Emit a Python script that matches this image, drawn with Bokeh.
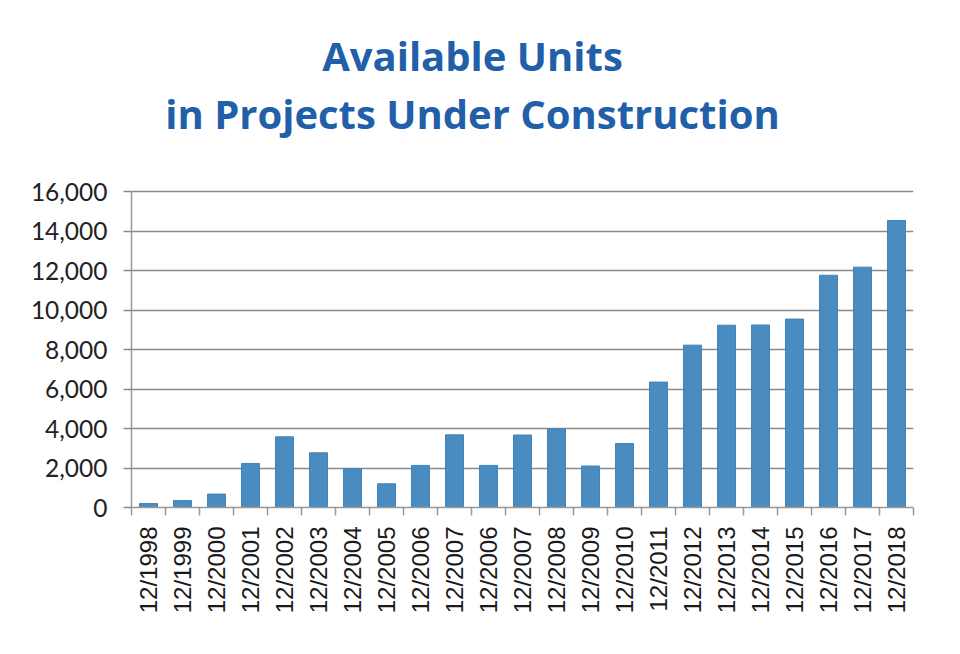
import math

from bokeh.plotting import figure
from bokeh.models import FixedTicker, NumeralTickFormatter, Label, Range1d
from bokeh.embed import file_html
from bokeh.resources import INLINE

# --- Data ---
periods = ["12/1998", "12/1999", "12/2000", "12/2001", "12/2002", "12/2003",
           "12/2004", "12/2005", "12/2006", "12/2007", "12/2006", "12/2007",
           "12/2008", "12/2009", "12/2010", "12/2011", "12/2012", "12/2013",
           "12/2014", "12/2015", "12/2016", "12/2017", "12/2018"]
units = [200, 350, 680, 2230, 3580, 2770, 1970, 1200, 2130, 3680, 2130, 3670,
         3980, 2100, 3240, 6350, 8220, 9230, 9240, 9540, 11760, 12170, 14530]
y_ticks = [0, 2000, 4000, 6000, 8000, 10000, 12000, 14000, 16000]
title_lines = ["Available Units", "in Projects Under Construction"]

BLUE = "#4a8cc0"
TITLE_BLUE = "#2160a9"

# layout in pixels: value axis runs from y=507 (0) up to y=191 (16,000);
# the frame is stretched up to the top so the title can sit inside it
AXIS_BOTTOM, AXIS_TOP = 507, 191
Y_MAX = y_ticks[-1]
per_px = Y_MAX / (AXIS_BOTTOM - AXIS_TOP)


def px_to_y(py):
    return (AXIS_BOTTOM - py) * per_px


idx = list(range(len(periods)))

p = figure(
    width=960, height=654,
    x_range=Range1d(-0.5, len(periods) - 0.5),
    y_range=Range1d(0, px_to_y(0)),
    toolbar_location=None,
    output_backend="svg",
    min_border_left=131, min_border_right=47,
    min_border_top=0, min_border_bottom=654 - AXIS_BOTTOM,
    background_fill_color="white",
    border_fill_color="white",
    outline_line_color=None,
)

# --- title: two centred lines ---
x_mid = -0.5 + (472 - 131) / ((913 - 131) / len(periods))
for line, baseline in zip(title_lines, [55, 113]):
    p.add_layout(Label(x=x_mid, y=px_to_y(baseline), text=line,
                       text_align="center", text_baseline="alphabetic",
                       text_font="Open Sans", text_font_size="40px",
                       text_font_style="bold", text_color=TITLE_BLUE))

p.vbar(x=idx, top=units, width=0.53, fill_color=BLUE,
       line_color="#3f84bd", line_width=1)

# --- x axis: labels under bars, tick marks between them ---
p.xaxis.ticker = FixedTicker(ticks=idx,
                             minor_ticks=[i - 0.5 for i in range(len(periods) + 1)])
p.xaxis.major_label_overrides = {i: lab for i, lab in enumerate(periods)}
p.xaxis.major_label_orientation = math.pi / 2
p.xaxis.major_tick_line_color = None
p.xaxis.major_tick_out = 0
p.xaxis.major_tick_in = 0
p.xaxis.minor_tick_out = 8
p.xaxis.minor_tick_in = 0
p.xaxis.minor_tick_line_color = "#999999"
p.xaxis.minor_tick_line_width = 1.5
p.xaxis.axis_line_color = "#999999"
p.xaxis.axis_line_width = 1.5
p.xaxis.major_label_text_font = "Liberation Sans"
p.xaxis.major_label_text_font_size = "24px"
p.xaxis.major_label_text_color = "#1a1a1a"
p.xaxis.major_label_standoff = 11

# --- y axis (line limited to the value range) ---
p.yaxis.ticker = FixedTicker(ticks=y_ticks)
p.yaxis.bounds = (0, Y_MAX)
p.yaxis.formatter = NumeralTickFormatter(format="0,0")
p.yaxis.minor_tick_line_color = None
p.yaxis.major_tick_out = 8
p.yaxis.major_tick_in = 0
p.yaxis.major_tick_line_color = "#8a8a8a"
p.yaxis.major_tick_line_width = 1.5
p.yaxis.axis_line_color = "#999999"
p.yaxis.axis_line_width = 1.5
p.yaxis.major_label_text_font = "Lato"
p.yaxis.major_label_text_font_size = "24.5px"
p.yaxis.major_label_text_color = "#222222"
p.yaxis.major_label_standoff = 16

p.xgrid.grid_line_color = None
p.ygrid.grid_line_color = "#8a8a8a"
p.ygrid.grid_line_width = 1.5

open("out.html", "w").write(file_html(p, INLINE))
